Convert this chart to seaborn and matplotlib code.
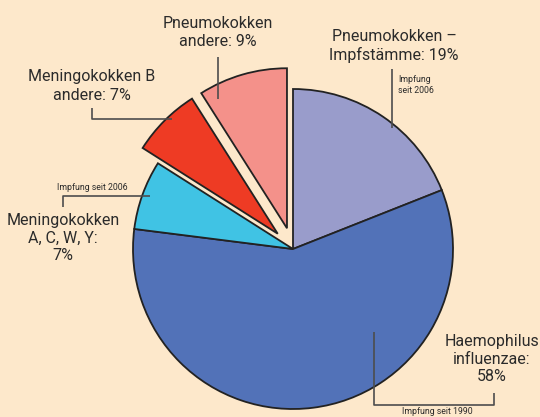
import matplotlib
matplotlib.use("Agg")
import matplotlib.pyplot as plt
import seaborn as sns

# ---- data ----
labels = ["Pneumokokken –\nImpfstämme: 19%", "Haemophilus\ninfluenzae:\n58%",
          "Meningokokken\nA, C, W, Y:\n7%", "Meningokokken B\nandere: 7%",
          "Pneumokokken\nandere: 9%"]
shares = [19, 58, 7, 7, 9]
explode = [0, 0, 0, 0.135, 0.135]
notes = ["Impfung\nseit 2006", "Impfung seit 1990", "Impfung seit 2006"]

sns.set_theme(style="white")
plt.rcParams['font.family'] = ['Roboto', 'DejaVu Sans']

bg = "#FDE8CB"
colors = ["#999CCB", "#5272B8", "#40C3E4", "#EE3B24", "#F4918A"]
txt = "#2b2b2b"
lc = "#4d4d4d"

W, H = 540, 417
CX, CY, R = 293, 249, 160  # pie centre / radius in pixels

fig = plt.figure(figsize=(W / 100, H / 100), dpi=100, facecolor=bg)
ax = fig.add_axes([0, 0, 1, 1])
ax.set_facecolor(bg)

def X(px):
    return (px - CX) / R

def Y(py):
    return (CY - py) / R

ax.pie(shares, colors=colors, explode=explode, startangle=90, counterclock=False,
       radius=1, frame=True,
       wedgeprops=dict(edgecolor="#222222", linewidth=1.3))
ax.set_xlim(X(0), X(W))
ax.set_ylim(Y(H), Y(0))
ax.set_aspect("equal")
ax.axis("off")

fs = 11.5
sfs = 6.3

def line(xs, ys):
    ax.plot([X(v) for v in xs], [Y(v) for v in ys], color=lc, lw=1.2,
            solid_capstyle="butt", zorder=5)

def label(x, y, s, size=fs, ha="center", ls=1.25):
    ax.text(X(x), Y(y), s, ha=ha, va="center", fontsize=size, color=txt, linespacing=ls)

# Pneumokokken Impfstaemme
label(394, 46, labels[0])
line([392, 392], [69, 128])
label(398, 85, notes[0], size=sfs, ha="left", ls=1.4)

# Haemophilus
label(492, 359, labels[1], ls=1.2)
line([374, 374, 494, 494], [332, 405, 405, 393])
label(437, 412, notes[1], size=sfs)

# Meningokokken ACWY
label(63, 238, labels[2], ls=1.2)
line([63, 63, 150], [207, 196, 196])
label(92, 188, notes[2], size=sfs)

# Meningokokken B
label(92, 86, labels[3])
line([92, 92, 172], [108, 119, 119])

# Pneumokokken andere
label(218, 32, labels[4])
line([218, 218], [57, 99])

fig.savefig("out.png", dpi=100, facecolor=bg)
